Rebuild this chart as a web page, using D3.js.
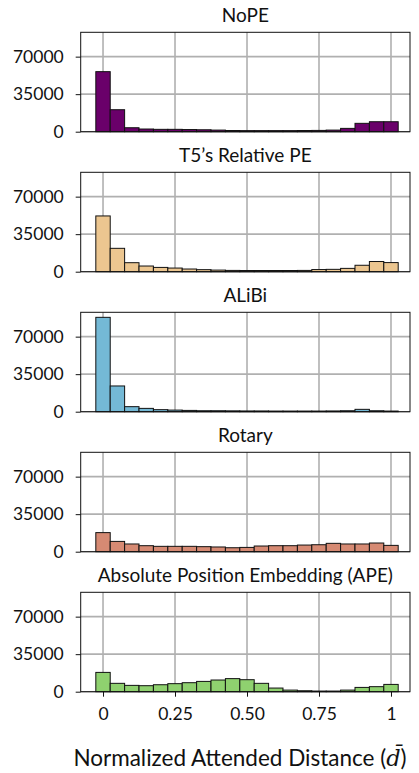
<!DOCTYPE html>
<html>
<head>
<meta charset="utf-8">
<script src="https://cdn.jsdelivr.net/npm/d3@7"></script>
<style>
  html, body { margin: 0; padding: 0; background: #fff; }
  svg { display: block; }
  text { font-family: Lato, "DejaVu Sans", sans-serif; fill: #111; }
</style>
</head>
<body>
<svg id="chart" width="419" height="773"></svg>
<script>
// ---- data ----
const binCenters = [0, 0.05, 0.10, 0.15, 0.20, 0.25, 0.30, 0.35, 0.40, 0.45, 0.50,
                    0.55, 0.60, 0.65, 0.70, 0.75, 0.80, 0.85, 0.90, 0.95, 1.00];
const binWidth = 0.05;
const titles = ["NoPE", "T5\u2019s Relative PE", "ALiBi", "Rotary", "Absolute Position Embedding (APE)"];
const colors = ["#6a006a", "#ecc690", "#74b9d6", "#d68a73", "#8fd16f"];
const nope   = [56000, 20500, 3700, 2500, 2200, 2200, 2000, 1800, 1500, 1100, 1000, 1000, 1000, 1000, 1100, 1200, 1500, 3100, 7800, 9300, 9300];
const t5     = [52000, 21800, 8400, 5300, 4000, 3400, 2500, 1900, 1500, 1200, 1100, 1100, 1100, 1100, 1200, 2000, 2200, 3100, 6000, 9500, 8500];
const alibi  = [88000, 24000, 4700, 3100, 1900, 1500, 1200, 900, 900, 800, 700, 700, 600, 600, 600, 600, 700, 900, 2200, 900, 600];
const rotary = [17800, 9600, 7200, 5600, 5000, 5000, 5000, 4700, 4400, 3700, 4000, 5300, 5600, 5600, 6200, 6500, 7800, 7200, 7200, 8100, 5900];
const ape    = [18000, 7800, 5900, 5600, 6500, 7500, 8400, 9600, 10900, 12200, 11200, 7800, 3400, 1500, 900, 600, 600, 1500, 4000, 4700, 6800];
const seriesList = [nope, t5, alibi, rotary, ape];
const yTicks = [0, 35000, 70000];
const xTicks = [0, 0.25, 0.5, 0.75, 1];
const xTickLabels = ["0", "0.25", "0.50", "0.75", "1"];

// ---- layout ----
const svg = d3.select("#chart");
const left = 80.7, right = 410;
const panelTop0 = 32.3, panelStep = 140, panelH = 99.4;
const x = d3.scaleLinear().domain([-0.0775, 1.066]).range([left, right]);

seriesList.forEach((vals, i) => {
  const top = panelTop0 + i * panelStep;
  const bottom = top + panelH;
  const y = d3.scaleLinear().domain([0, 92700]).range([bottom, top]);
  const g = svg.append("g");

  // title
  g.append("text")
    .attr("x", (left + right) / 2)
    .attr("y", top - 10)
    .attr("text-anchor", "middle")
    .style("font-size", "19px")
    .text(titles[i]);

  // grid
  g.selectAll(".gx").data(xTicks).enter().append("line")
    .attr("x1", d => x(d)).attr("x2", d => x(d))
    .attr("y1", top).attr("y2", bottom)
    .attr("stroke", "#b0b0b0").attr("stroke-width", 1.6);
  g.selectAll(".gy").data(yTicks).enter().append("line")
    .attr("x1", left).attr("x2", right)
    .attr("y1", d => y(d)).attr("y2", d => y(d))
    .attr("stroke", "#b0b0b0").attr("stroke-width", 1.6);

  // bars
  g.selectAll(".bar").data(binCenters).enter().append("rect")
    .attr("x", d => x(d - binWidth / 2))
    .attr("width", d => x(d + binWidth / 2) - x(d - binWidth / 2))
    .attr("y", (d, j) => y(vals[j]))
    .attr("height", (d, j) => y(0) - y(vals[j]))
    .attr("fill", colors[i])
    .attr("stroke", "#111")
    .attr("stroke-width", 1);

  // frame
  g.append("rect")
    .attr("x", left).attr("y", top)
    .attr("width", right - left).attr("height", panelH)
    .attr("fill", "none").attr("stroke", "#111").attr("stroke-width", 1);

  // y axis
  const yAxis = d3.axisLeft(y).tickValues(yTicks).tickFormat(d3.format("d")).tickSize(5).tickPadding(12);
  const ya = g.append("g").attr("transform", `translate(${left},0)`).call(yAxis);
  ya.select(".domain").remove();
  ya.selectAll("text").style("font-size", "17.5px").style("font-family", "Lato, 'DejaVu Sans', sans-serif").attr("fill", "#111");
  ya.selectAll("line").attr("stroke", "#111");

  if (i === seriesList.length - 1) {
    const xAxis = d3.axisBottom(x).tickValues(xTicks).tickFormat((d, k) => xTickLabels[k]).tickSize(5).tickPadding(11);
    const xa = g.append("g").attr("transform", `translate(0,${bottom})`).call(xAxis);
    xa.select(".domain").remove();
    xa.selectAll("text").style("font-size", "17.5px").style("font-family", "Lato, 'DejaVu Sans', sans-serif").attr("fill", "#111");
    xa.selectAll("line").attr("stroke", "#111");

    const lab = g.append("text")
      .attr("x", 240)
      .attr("y", 766)
      .attr("text-anchor", "middle")
      .style("font-size", "22.5px");
    lab.append("tspan").text("Normalized Attended Distance (");
    lab.append("tspan").style("font-style", "italic").style("font-family", "'DejaVu Serif', serif").text("d\u0304");
    lab.append("tspan").text(")");
  }
});
</script>
</body>
</html>
